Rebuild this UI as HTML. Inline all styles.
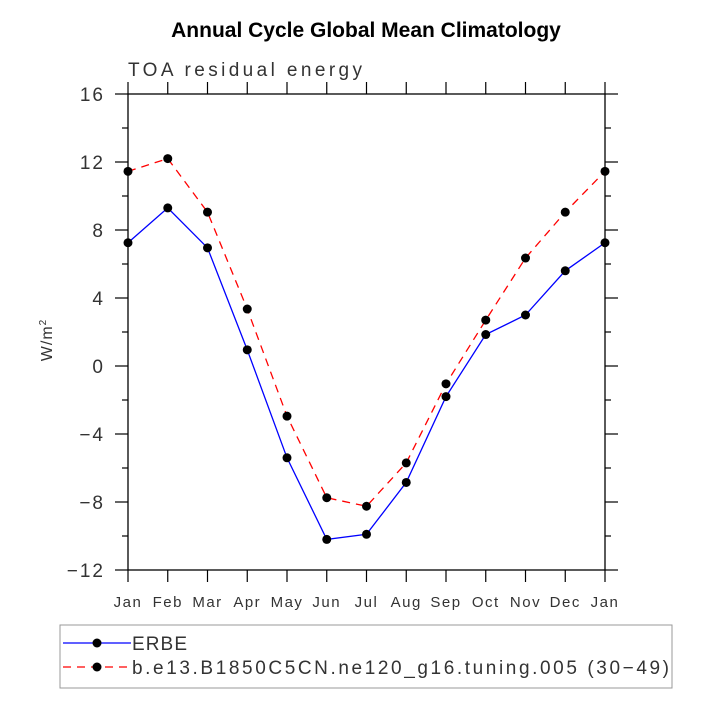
<!DOCTYPE html>
<html><head><meta charset="utf-8"><style>
body{margin:0;background:#fff;width:708px;height:708px;overflow:hidden}
svg text{font-family:"Liberation Sans",sans-serif}
</style></head><body>
<svg id="chart" width="708" height="708" viewBox="0 0 708 708" xmlns="http://www.w3.org/2000/svg">
<text x="366" y="37" text-anchor="middle" font-size="21" font-weight="bold" fill="#000">Annual Cycle Global Mean Climatology</text>
<text x="128" y="76" font-size="19" fill="#333" textLength="234" lengthAdjust="spacing">TOA residual energy</text>
<text transform="translate(52,340) rotate(-90)" text-anchor="middle" font-size="16" fill="#333" letter-spacing="1">W/m<tspan font-size="10" dy="-6">2</tspan></text>
<rect x="128" y="94" width="477" height="476" fill="none" stroke="#000" stroke-width="1.3"/>
<g id="axes"></g>
<g id="series"></g>
<g>
<rect x="60" y="625" width="612" height="63" fill="none" stroke="#999" stroke-width="1"/>
<g>
<line x1="63" y1="643" x2="131" y2="643" stroke="#0000ff" stroke-width="1.2"/>
<circle cx="97" cy="643" r="4.5" fill="#000"/>
<text x="132" y="650" font-size="19" fill="#333" textLength="55" lengthAdjust="spacing">ERBE</text></g>
<g>
<line x1="63" y1="667" x2="131" y2="667" stroke="#ff0000" stroke-width="1.2" stroke-dasharray="8,6"/>
<circle cx="97" cy="667" r="4.5" fill="#000"/>
<text x="132" y="674" font-size="19" fill="#333" textLength="537" lengthAdjust="spacing">b.e13.B1850C5CN.ne120_g16.tuning.005 (30−49)</text></g>
</g>
</svg>
<script>
const months=["Jan","Feb","Mar","Apr","May","Jun","Jul","Aug","Sep","Oct","Nov","Dec","Jan"];
const erbe=[7.25,9.3,6.95,0.95,-5.4,-10.2,-9.9,-6.85,-1.8,1.85,3.0,5.6,7.25];
const model=[11.45,12.2,9.05,3.35,-2.95,-7.75,-8.25,-5.7,-1.05,2.7,6.35,9.05,11.45];
const yTicks=[-12,-8,-4,0,4,8,12,16];
const NS="http://www.w3.org/2000/svg";
const X0=128,X1=605,Y0=570,Y1=94,YMIN=-12,YMAX=16;
const xs=i=>X0+(X1-X0)*i/(months.length-1);
const ys=v=>Y0-(v-YMIN)/(YMAX-YMIN)*(Y0-Y1);
function mk(tag,attrs,parent){const e=document.createElementNS(NS,tag);for(const k in attrs)e.setAttribute(k,attrs[k]);parent.appendChild(e);return e;}
const axes=document.getElementById('axes');
months.forEach((m,i)=>{
  const x=xs(i);
  const t=mk('line',{x1:x,y1:Y0,x2:x,y2:Y0+12,stroke:'#000','stroke-width':1.2},axes);
  
  
  const t2=mk('line',{x1:x,y1:Y1,x2:x,y2:Y1-12,stroke:'#000','stroke-width':1.2},axes);
  
  
  const l=mk('text',{x:x,y:607,'text-anchor':'middle','font-size':15,fill:'#333','letter-spacing':1.5},axes);
  l.textContent=m;
  
  
});
for(let v=YMIN;v<=YMAX;v++){
  const y=ys(v);const major=yTicks.includes(v);
  if(!major&&v%2!==0)continue;
  const len=major?13:6;
  const a=mk('line',{x1:X0-len,y1:y,x2:X0,y2:y,stroke:'#000','stroke-width':1.2},axes);
  
  
  const b=mk('line',{x1:X1,y1:y,x2:X1+len,y2:y,stroke:'#000','stroke-width':1.2},axes);
  
  
}
yTicks.forEach(v=>{
  const l=mk('text',{x:105,y:ys(v)+7,'text-anchor':'end','font-size':19,fill:'#333','letter-spacing':2},axes);
  l.textContent=v<0?'\u2212'+Math.abs(v):String(v);
  
  
});
const sg=document.getElementById('series');
function series(data,color,dash,name){
  const g=mk('g',{},sg);
  
  
  const p=mk('polyline',{points:data.map((v,i)=>xs(i)+','+ys(v)).join(' '),fill:'none',stroke:color,'stroke-width':1.3},g);
  if(dash)p.setAttribute('stroke-dasharray',dash);
  
  
  data.forEach((v,i)=>{
    const c=mk('circle',{cx:xs(i),cy:ys(v),r:4.5,fill:'#000'},g);
    
    
  });
}
series(model,'#ff0000','8,6','model-series');
series(erbe,'#0000ff',null,'erbe-series');
</script>
</body></html>
